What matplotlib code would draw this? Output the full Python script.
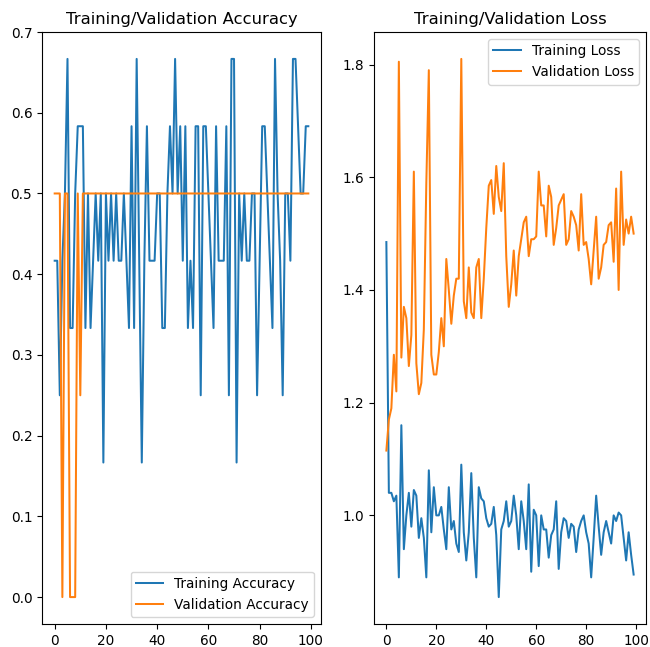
import matplotlib
matplotlib.use("Agg")
import matplotlib.pyplot as plt

# values, one per epoch
acc = [0.4167, 0.4167, 0.25, 0.4167, 0.5, 0.6667, 0.3333, 0.3333, 0.5, 0.5833,
       0.5833, 0.5833, 0.3333, 0.5, 0.3333, 0.4167, 0.5, 0.4167, 0.5, 0.1667,
       0.5, 0.4167, 0.5, 0.4167, 0.5, 0.4167, 0.4167, 0.5, 0.4167, 0.3333,
       0.5833, 0.3333, 0.6667, 0.4167, 0.1667, 0.4167, 0.5833, 0.4167, 0.4167, 0.4167,
       0.5, 0.5, 0.3333, 0.3333, 0.5, 0.5833, 0.5, 0.6667, 0.5, 0.5833,
       0.4167, 0.5833, 0.3333, 0.4167, 0.3333, 0.5833, 0.5833, 0.25, 0.5833, 0.5833,
       0.5, 0.4167, 0.3333, 0.5833, 0.4167, 0.4167, 0.4167, 0.5833, 0.25, 0.6667,
       0.6667, 0.1667, 0.5, 0.4167, 0.5, 0.4167, 0.4167, 0.5, 0.5, 0.25,
       0.4167, 0.5833, 0.5833, 0.5, 0.4167, 0.3333, 0.6667, 0.5, 0.4167, 0.25,
       0.5, 0.5, 0.4167, 0.6667, 0.6667, 0.5833, 0.5, 0.5, 0.5833, 0.5833]

val_acc = [0.5, 0.5, 0.5, 0.0, 0.5, 0.5, 0.0, 0.0, 0.0, 0.5, 0.25] + [0.5] * 89

loss = [1.485, 1.04, 1.04, 1.025, 1.035, 0.89, 1.16, 0.94, 1.0, 1.04,
        0.98, 1.045, 1.035, 0.96, 0.995, 0.96, 0.89, 1.08, 0.97, 1.05,
        1.0, 1.0, 1.015, 0.975, 0.94, 1.05, 0.975, 0.99, 0.95, 0.935,
        1.09, 0.97, 0.92, 0.97, 1.075, 0.96, 0.89, 1.05, 1.03, 1.025,
        0.995, 0.98, 0.985, 1.015, 0.965, 0.855, 0.975, 0.99, 1.025, 0.98,
        0.99, 1.035, 1.0, 0.94, 1.025, 0.99, 0.94, 1.055, 0.9, 1.01,
        1.0, 0.91, 1.0, 0.975, 0.975, 0.925, 0.965, 0.975, 1.025, 0.905,
        0.97, 0.995, 0.99, 0.96, 0.985, 0.98, 0.935, 0.975, 0.99, 1.0,
        0.97, 0.95, 0.89, 0.96, 1.035, 0.98, 0.93, 0.97, 0.99, 0.97,
        0.95, 1.0, 0.99, 1.005, 1.0, 0.96, 0.92, 0.97, 0.93, 0.895]

val_loss = [1.115, 1.17, 1.19, 1.285, 1.22, 1.805, 1.28, 1.37, 1.35, 1.265,
            1.32, 1.61, 1.27, 1.215, 1.235, 1.33, 1.59, 1.79, 1.285, 1.25,
            1.25, 1.29, 1.35, 1.3, 1.455, 1.4, 1.34, 1.39, 1.42, 1.42,
            1.81, 1.38, 1.35, 1.44, 1.36, 1.35, 1.44, 1.455, 1.35, 1.42,
            1.51, 1.585, 1.595, 1.535, 1.62, 1.565, 1.54, 1.625, 1.46, 1.37,
            1.41, 1.47, 1.39, 1.46, 1.49, 1.52, 1.53, 1.46, 1.49, 1.49,
            1.495, 1.61, 1.55, 1.55, 1.495, 1.585, 1.565, 1.48, 1.51, 1.55,
            1.56, 1.57, 1.48, 1.49, 1.54, 1.53, 1.515, 1.47, 1.57, 1.48,
            1.485, 1.455, 1.41, 1.47, 1.53, 1.42, 1.44, 1.48, 1.485, 1.515,
            1.52, 1.45, 1.58, 1.4, 1.61, 1.48, 1.525, 1.5, 1.53, 1.5]


def main():
    """Plot training and validation accuracy / loss side by side"""
    epochs = range(len(acc))
    plt.rcParams["font.size"] = 9.8
    plt.rcParams["lines.linewidth"] = 1.45

    fig = plt.figure(figsize=(6.5, 6.47), dpi=100)

    ax1 = fig.add_axes([42 / 650, 23 / 647, 279 / 650, 592 / 647])
    ax1.plot(epochs, acc, label="Training Accuracy")
    ax1.plot(epochs, val_acc, label="Validation Accuracy")
    ax1.legend(loc="lower right")
    ax1.set_title("Training/Validation Accuracy", fontsize=11.8)

    ax2 = fig.add_axes([374 / 650, 23 / 647, 272 / 650, 592 / 647])
    ax2.plot(epochs, loss, label="Training Loss")
    ax2.plot(epochs, val_loss, label="Validation Loss")
    ax2.legend(loc="upper right")
    ax2.set_title("Training/Validation Loss", fontsize=11.8)

    fig.savefig("out.png")


if __name__ == "__main__":
    main()
